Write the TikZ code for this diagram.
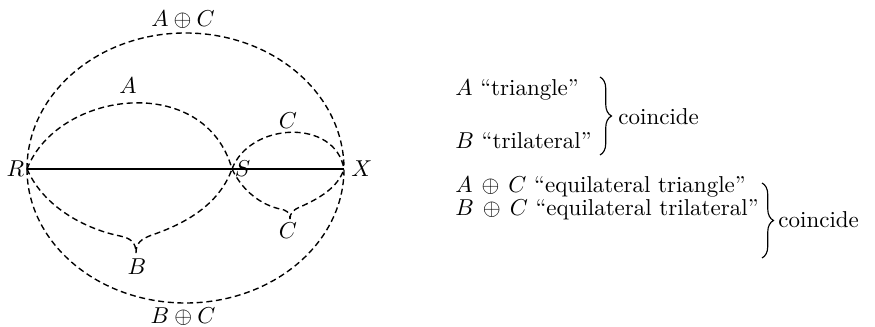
\documentclass[tikz,border=0pt]{standalone}
\usetikzlibrary{decorations.pathreplacing}

\begin{document}
\begin{tikzpicture}[x=0.435pt,y=-0.435pt]

  \tikzstyle{possible}=[line width=0.6pt,dash pattern=on 2.6pt off 1.6pt]
  \tikzstyle{actual}=[line width=0.9pt]
  \tikzstyle{lbl}=[inner sep=1pt]
  \tikzstyle{note}=[anchor=base west,inner sep=0pt]
  \tikzstyle{curly}=[line width=0.5pt,decorate,decoration={brace,amplitude=5pt}]

  \useasboundingbox (0,0) rectangle (875,327);

  % ====================
  % Parameters
  % ====================
  \def\liney{169}  % Height of the line R--X
  \def\midx{185.5} % Middle of the outer curves
  \def\topy{33}    % Top of the outer curve A+C
  \def\boty{303}   % Bottom of the outer curve B+C
  \def\textx{455}  % Left edge of the notes
  % ====================


  % ====================
  % Points
  % ====================
  \coordinate (R) at (27,\liney);
  \coordinate (S) at (232,\liney);
  \coordinate (X) at (344,\liney);
  \node[lbl,anchor=east] (lR) at (R) {$R$};
  \node[lbl,anchor=west] (lS) at (S) {$S$};
  \node[lbl,anchor=west,xshift=2pt] (lX) at (X) {$X$};

  % Actual line
  \draw[actual] (R) -- (S) -- (X);

  % ====================
  % Outer curves
  % ====================
  \draw[possible] (R) .. controls (27,93.9) and (98,\topy) .. (\midx,\topy)
    .. controls (273,\topy) and (344,93.9) .. (X);
  \draw[possible] (R) .. controls (27,243) and (98,\boty) .. (\midx,\boty)
    .. controls (273,\boty) and (344,243) .. (X);
  \node[lbl] (lAC) at (183,20) {$A\oplus C$};
  \node[lbl] (lBC) at (183,317) {$B\oplus C$};

  % ====================
  % Inner curves
  % ====================
  % A and B
  \draw[possible] (R) .. controls (58,90) and (205,72) .. (S);
  \draw[possible] (R) .. controls (45,210) and (90,230) .. (120,236)
    .. controls (130,238) and (136,242) .. (136,253);
  \draw[possible] (136,253) .. controls (136,243) and (141,239) .. (152,235)
    .. controls (190,222) and (220,202) .. (S);
  \node[lbl] (lA) at (128,86) {$A$};
  \node[lbl] (lB) at (137,267) {$B$};

  % C above and below
  \draw[possible] (S) .. controls (250,122) and (335,118) .. (X);
  \draw[possible] (S) .. controls (243,192) and (262,205) .. (280,209)
    .. controls (286,210) and (290,212) .. (290,219);
  \draw[possible] (290,219) .. controls (290,213) and (293,210) .. (300,207)
    .. controls (318,199) and (338,188) .. (X);
  \node[lbl] (lCa) at (288,121) {$C$};
  \node[lbl] (lCb) at (288,231) {$C$};

  % ====================
  % Notes
  % ====================
  \node[note] (tri) at (\textx,96) {$A$ ``triangle''};
  \node[note] (tril) at (\textx,149) {$B$ ``trilateral''};
  \draw[curly] (600,77) -- (600,155);
  \node[note,anchor=west] (coincA) at (618,117) {coincide};

  \node[note] (eq) at (\textx,193) {\renewcommand{\arraystretch}{0.8}%
    \begin{tabular}[t]{@{}l@{}}
      $A\,\oplus\,C$ ``equilateral triangle''\\
      $B\,\oplus\,C$ ``equilateral trilateral''
    \end{tabular}};
  \draw[curly] (762,183) -- (762,258);
  \node[note,anchor=west] (coincB) at (778,220) {coincide};
\end{tikzpicture}
\end{document}
